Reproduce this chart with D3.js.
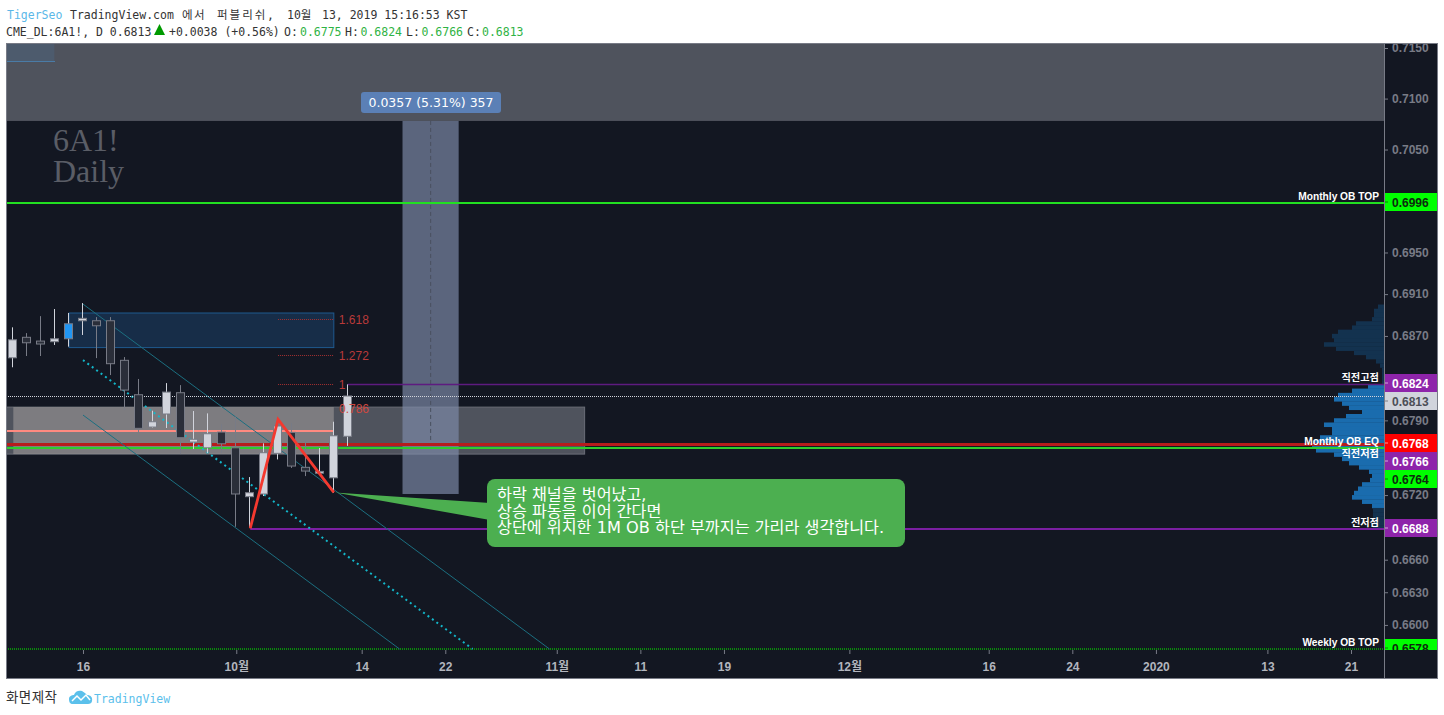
<!DOCTYPE html>
<html><head><meta charset="utf-8">
<script src="https://cdn.jsdelivr.net/npm/d3@7/dist/d3.min.js"></script>
<style>html,body{margin:0;padding:0;background:#fff}svg{display:block}</style>
</head><body><svg id="c" width="1444" height="715"></svg>
<script>
// ---- data ----
const opens =[.68492,.68687,.68651,.68645,.68673,.68845,.68845,.68845,.68468,.68142,.67837,.6796,.68161,.67696,.67642,.6779,.67642,.67185,.6721,.6759,.67787,.67459,.67404,.67361,.6775];
const highs =[.68782,.68727,.68889,.68957,.68919,.69014,.6888,.6888,.68499,.68291,.67991,.68252,.68233,.67988,.67966,.67865,.67934,.67368,.67684,.67903,.67875,.67715,.6764,.67887,.6824];
const lows  =[.68402,.68509,.68509,.68614,.68598,.68709,.68489,.68328,.67997,.6779,.67828,.67828,.67583,.6763,.67593,.67593,.66905,.66893,.67191,.67533,.67453,.67377,.67402,.67222,.6766];
const closes=[.68663,.68635,.68623,.68673,.68816,.68868,.68797,.68436,.68186,.67825,.67887,.68167,.67737,.67722,.67774,.6768,.6721,.67222,.67596,.67847,.67471,.67424,.67421,.67755,.6813];
const highlightBar=4;
const priceTicks=[.7150,.7100,.7050,.6950,.6910,.6870,.6790,.6720,.6660,.6630,.6600];
const timeTickIdx=[5,16,25,31,39,45,51,60,70,76,82,90,96];
const timeTickLabels=["16","10월","14","22","11월","11","19","12월","16","24","2020","13","21"];
const levelPrices=[.6998,.6824,.6813,.6768,.6766,.6764,.6688,.6578];
const levelTexts=["0.6996","0.6824","0.6813","0.6768","0.6766","0.6764","0.6688","0.6578"];
const levelKinds=["green","purple","last","red","purple","green","purple","green"];
const levelNotes=[["Monthly OB TOP",.6998],["직전고점",.6824],["Monthly OB EQ",.6768],["직전저점",.6766],["전저점",.6688],["Weekly OB TOP",.6578]];
const profileTop=.6900, profileStep=.0004, valueHigh=.6824, valueLow=.6708;
const profileVol=[6,10,10,12,28,32,46,52,50,60,48,30,18,8,4,2,2,2,2,16,32,46,50,42,35,22,38,50,60,52,52,64,70,72,68,50,42,35,25,15,12,14,22,26,30,32,22,12,11,11,11,11,11];
const fibLevels=[["1.618",.6886],["1.272",.68519],["1",.6824]];
const fibExtra=["0.786",.68025];
const zigzag=[[17,.6689],[19,.6791],[23,.67225]];
const channels=[[5,.69004,38.48,.6578,"solid"],[5,.6847,32.96,.6578,"dot"],[5,.6795,27.72,.6578,"solid"]];
const measureBase=.6721, measureTop=.7078;
const watermark=["6A1!","Daily"];
const calloutLines=["하락 채널을 벗어났고,","상승 파동을 이어 간다면","상단에 위치한 1M OB 하단 부까지는 가리라 생각합니다."];

// ---- layout ----
const L=6,R=1384,RR=1437,T=43,PB=650,B=678;
const x=d3.scaleLinear().domain([5,96]).range([83,1351]);
const y=d3.scaleLog().domain([.7150,.6578]).range([48,649]);
const svg=d3.select("#c");
const SANS='"Liberation Sans","Noto Sans CJK KR",sans-serif';
const MONO='"DejaVu Sans Mono","Noto Sans CJK KR",monospace';
svg.append("defs").append("clipPath").attr("id","pane").append("rect").attr("x",L).attr("y",T).attr("width",R-L).attr("height",PB-T);
svg.select("defs").append("clipPath").attr("id","paxis").append("rect").attr("x",R).attr("y",T).attr("width",RR-R).attr("height",PB-T);
svg.append("rect").attr("x",L).attr("y",T).attr("width",RR-L).attr("height",B-T).attr("fill","#131722");
const g=svg.append("g").attr("clip-path","url(#pane)");
const px=(i)=>x(i);
function box(i0,i1,p0,p1,fill,op,stroke){
  return g.append("rect").attr("x",px(i0)).attr("width",px(i1)-px(i0)).attr("y",y(p0)).attr("height",y(p1)-y(p0))
   .attr("fill",fill).attr("fill-opacity",op).attr("stroke",stroke||"none");
}
function hline(i0,i1,p,col,w,dash){
  const yy=Math.round(y(p))+ (w%2?0.5:0);
  return g.append("line").attr("x1",i0===null?L:px(i0)).attr("x2",i1===null?R:px(i1)).attr("y1",yy).attr("y2",yy).attr("stroke",col).attr("stroke-width",w).attr("stroke-dasharray",dash||null);
}
// zones
box(-.5,100,.7160,measureTop,"#787b86",.6);
box(-.5,2.5,.7160,.7137,"#4a6a8c",.35).attr("width",48);
g.append("line").attr("x1",L).attr("x2",55).attr("y1",61.5).attr("y2",61.5).attr("stroke","#4a7ba6").attr("stroke-width",1);
box(4,23,.68919,.68589,"#1c4a78",.45,"#1f5a8f");
box(-.5,41,.68025,.67583,"#787b86",.6,"#6a6d77");
box(0,23,.68025,.67583,"#b5b0aa",.45);
// volume profile
const vScale=d3.scaleLinear().domain([0,100]).range([0,100]);
profileVol.forEach((v,i)=>{
  const pt=profileTop-i*profileStep, pb=pt-profileStep;
  const bright=pt<=valueHigh+1e-6 && pt>valueLow+1e-6;
  g.append("rect").attr("x",R-vScale(v)).attr("width",vScale(v)).attr("y",y(pt)).attr("height",y(pb)-y(pt)+.3)
    .attr("fill",bright?"#1a6cae":"#13324f");
});
// measure
box(27.93,31.96,measureTop,measureBase,"#7e8ba8",.68);
g.append("line").attr("x1",px(29.95)).attr("x2",px(29.95)).attr("y1",y(measureTop)).attr("y2",y(.6769)).attr("stroke","#49505f").attr("stroke-dasharray","4 3");
// levels
hline(-.5,23,.6780,"#ff8a80",2);
hline(null,null,.6998,"#22e022",2);
hline(24,null,.6824,"#5e1b80",1.5);
hline(null,null,.6768,"#b71c1c",3);
hline(null,null,.6764,"#2ecc2e",2);
hline(17,null,.6688,"#7b1fa2",2);
hline(null,null,.6578,"#0a8a0a",2,"1 1");
// channels
channels.forEach(c=>{
  g.append("line").attr("x1",px(c[0])).attr("y1",y(c[1])).attr("x2",px(c[2])).attr("y2",y(c[3]))
   .attr("stroke",c[4]==="dot"?"#13b6c9":"#1c6f80").attr("stroke-width",c[4]==="dot"?2:1).attr("stroke-dasharray",c[4]==="dot"?"2 3.5":null);
});
// last price line
hline(null,null,.6813,"#d1d4dc",1,"1 1");
// candles
const candles=g.append("g");
opens.forEach((o,i)=>{
  const cx=Math.round(x(i))-.5, up=closes[i]>=o;
  const top=y(Math.max(o,closes[i])), bot=y(Math.min(o,closes[i]));
  candles.append("line").attr("x1",cx).attr("x2",cx).attr("y1",y(highs[i])).attr("y2",y(lows[i])).attr("stroke",up?"#d1d4dc":"#787b86").attr("stroke-width",1);
  candles.append("rect").attr("x",cx-4).attr("width",8).attr("y",top).attr("height",Math.max(1.5,bot-top))
    .attr("fill",i===highlightBar?"#2196f3":(up?"#d1d4dc":"#2a2e39")).attr("stroke","#787b86").attr("stroke-width",1);
});
// fib
fibLevels.forEach(f=>{
  hline(19,23,f[1],"#a33030",1,"1 1");
  g.append("text").attr("x",px(23)+5).attr("y",y(f[1])+5).attr("fill","#b93a3a").attr("font-family",SANS).attr("font-size",12).text(f[0]);
});
g.append("text").attr("x",339).attr("y",y(fibExtra[1])+6).attr("fill","#d0483f").attr("font-family",SANS).attr("font-size",12).text(fibExtra[0]);
// zigzag
g.append("path").attr("d",d3.line().x(d=>x(d[0])).y(d=>y(d[1]))(zigzag)).attr("fill","none").attr("stroke","#f4392f").attr("stroke-width",2.8);
// watermark
g.selectAll(".wm").data(watermark).join("text").attr("x",53).attr("y",(d,i)=>151+i*31).attr("fill","#5a5d66")
 .attr("font-family",'"Liberation Serif",serif').attr("font-size",32).text(d=>d);
// callout
const tip=zigzag[2];
g.append("path").attr("d",`M${x(tip[0])+1},${y(tip[1])}L490,503L490,520Z`).attr("fill","#4caf50");
g.append("rect").attr("x",487).attr("y",479).attr("width",418).attr("height",68).attr("rx",8).attr("fill","#4caf50");
g.selectAll(".cl").data(calloutLines).join("text").attr("x",497).attr("y",(d,i)=>500+i*16.5).attr("fill","#fff")
 .attr("font-family",'"DejaVu Sans","Noto Sans CJK KR",sans-serif').attr("font-size",16.2).text(d=>d);
// measure label
g.append("rect").attr("x",361).attr("y",92).attr("width",140).attr("height",21).attr("rx",3).attr("fill","#5b80b6");
g.append("text").attr("x",431).attr("y",107).attr("text-anchor","middle").attr("fill","#fff").attr("font-family",'"DejaVu Sans",sans-serif').attr("font-size",12.5).text("0.0357 (5.31%) 357");
// level notes
const noteShift={"Monthly OB EQ":1,"직전저점":11};
levelNotes.forEach(n=>{
  const shift=noteShift[n[0]]!==undefined?noteShift[n[0]]:-3;
  g.append("text").attr("x",1379).attr("y",y(n[1])+shift).attr("text-anchor","end").attr("fill","#fff")
   .attr("font-family",SANS).attr("font-size",10.2).attr("font-weight",700).text(n[0]);
});
// axes
const yAxis=d3.axisRight(y).tickValues(priceTicks).tickFormat(d3.format(".4f")).tickSize(4).tickPadding(4);
const ya=svg.append("g").attr("transform",`translate(${R},0)`).call(yAxis);
ya.select(".domain").remove();
ya.selectAll("line").attr("stroke","#787b86");
ya.selectAll("text").attr("fill","#787b86").attr("font-family",SANS).attr("font-size",12).attr("font-weight",700);
const xAxis=d3.axisBottom(x).tickValues(timeTickIdx).tickFormat((d,i)=>timeTickLabels[i]).tickSize(4).tickPadding(8);
const xa=svg.append("g").attr("transform",`translate(0,${PB})`).call(xAxis);
xa.select(".domain").remove();
xa.selectAll("line").attr("stroke","#787b86");
xa.selectAll("text").attr("fill","#b2b5be").attr("font-family",SANS).attr("font-size",12).attr("font-weight",700);
// price labels
const colors={green:["#00ff00","#0d2b0d"],purple:["#8e24aa","#fff"],red:["#ff0000","#fff"],last:["#d1d4dc","#4c4f57"]};
const pl=svg.append("g").attr("clip-path","url(#paxis)");
let prevBottom=-1e9;
levelPrices.forEach((p,i)=>{
  const h=18, top=Math.max(Math.floor(y(p)-h/2-.5),prevBottom);
  prevBottom=top+h;
  const k=colors[levelKinds[i]];
  pl.append("rect").attr("x",R).attr("y",top).attr("width",RR-R).attr("height",h).attr("fill",k[0]);
  pl.append("line").attr("x1",R).attr("x2",R+4).attr("y1",top+h/2).attr("y2",top+h/2).attr("stroke",k[1]).attr("opacity",.6);
  pl.append("text").attr("x",R+8).attr("y",top+h/2+4.5).attr("fill",k[1]).attr("font-family",SANS).attr("font-size",12).attr("font-weight",700).text(levelTexts[i]);
});
// frame
svg.append("rect").attr("x",L+.5).attr("y",T+.5).attr("width",RR-L).attr("height",B-T).attr("fill","none").attr("stroke","#787b86").attr("stroke-width",1);
svg.append("line").attr("x1",R+.5).attr("x2",R+.5).attr("y1",T).attr("y2",B).attr("stroke","#787b86");
// header
function hdr(xp,yp,t,col,ls){svg.append("text").attr("x",xp).attr("y",yp).attr("fill",col||"#333").attr("font-family",MONO).attr("font-size",11.5).attr("letter-spacing",ls||0).text(t);}
hdr(7,19,"TigerSeo","#5bb8e8");hdr(70,19,"TradingView.com");hdr(182,19,"에서",null,1.5);hdr(217,19,"퍼블리쉬",null,2);hdr(267,19,",");hdr(287,19,"10월");hdr(322,19,"13, 2019 15:16:53 KST");
hdr(6,36,"CME_DL:6A1!, D 0.6813");
svg.append("path").attr("d","M159.5,24L165,35H154Z").attr("fill","#009a00");
hdr(169,36,"+0.0038 (+0.56%)");
[["O:",284,"0.6775",300],["H:",345,"0.6824",360.5],["L:",406,"0.6766",421.5],["C:",467,"0.6813",482]].forEach(a=>{hdr(a[1],36,a[0]);hdr(a[3],36,a[2],"#2fb344");});
// footer
svg.append("text").attr("x",6).attr("y",702).attr("fill","#333").attr("font-family",'"Noto Sans CJK KR",sans-serif').attr("font-size",13.5).attr("letter-spacing",.4).text("화면제작");
svg.append("path").attr("d","M69,699C69,696 72,695 74,695C75,691 79,690 82,691C84,692 86,694 87,695C90,695 93,697 92,701C92,703 90,704 88,704H73C70,704 69,702 69,699Z").attr("fill","#5bc0eb");
svg.append("path").attr("d","M72,701L77,696L81,700L86,695L90,700").attr("fill","none").attr("stroke","#fff").attr("stroke-width",1.5);
hdr(94,703,"TradingView","#5bc0eb");
</script></body></html>
